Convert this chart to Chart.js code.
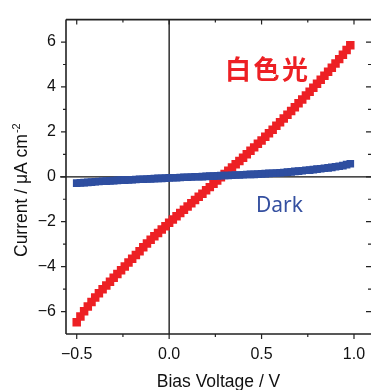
<!DOCTYPE html>
<html>
<head>
<meta charset="utf-8">
<script src="https://cdn.jsdelivr.net/npm/chart.js@4/dist/chart.umd.min.js"></script>
<style>
html,body{margin:0;padding:0;background:#fff;}
#wrap{width:377px;height:390px;position:relative;}
</style>
</head>
<body>
<div id="wrap"><canvas id="c" width="377" height="390"></canvas></div>
<script>
// Bias voltage (V), one value per measured point
const voltage = [-0.50,-0.48,-0.46,-0.44,-0.42,-0.40,-0.38,-0.36,-0.34,-0.32,-0.30,-0.28,-0.26,-0.24,-0.22,-0.20,-0.18,-0.16,-0.14,-0.12,-0.10,-0.08,-0.06,-0.04,-0.02,0.00,0.02,0.04,0.06,0.08,0.10,0.12,0.14,0.16,0.18,0.20,0.22,0.24,0.26,0.28,0.30,0.32,0.34,0.36,0.38,0.40,0.42,0.44,0.46,0.48,0.50,0.52,0.54,0.56,0.58,0.60,0.62,0.64,0.66,0.68,0.70,0.72,0.74,0.76,0.78,0.80,0.82,0.84,0.86,0.88,0.90,0.92,0.94,0.96,0.98];
// Current under white light (μA cm^-2)
const whiteLight = [-6.48,-6.22,-5.99,-5.78,-5.57,-5.37,-5.19,-5.01,-4.84,-4.67,-4.50,-4.33,-4.16,-3.99,-3.82,-3.65,-3.48,-3.31,-3.14,-2.97,-2.80,-2.65,-2.50,-2.35,-2.20,-2.05,-1.90,-1.76,-1.61,-1.47,-1.32,-1.18,-1.03,-0.89,-0.75,-0.60,-0.46,-0.31,-0.17,-0.02,0.13,0.27,0.41,0.56,0.70,0.85,1.00,1.16,1.31,1.47,1.62,1.78,1.94,2.10,2.27,2.43,2.60,2.76,2.93,3.10,3.27,3.44,3.62,3.79,3.97,4.14,4.32,4.50,4.68,4.86,5.05,5.24,5.44,5.65,5.86];
// Dark current (μA cm^-2)
const dark = [-0.28,-0.27,-0.26,-0.25,-0.24,-0.22,-0.21,-0.20,-0.19,-0.18,-0.17,-0.16,-0.15,-0.15,-0.14,-0.13,-0.12,-0.11,-0.11,-0.10,-0.09,-0.08,-0.07,-0.07,-0.06,-0.05,-0.04,-0.04,-0.03,-0.02,-0.02,-0.01,0.00,0.00,0.01,0.02,0.03,0.03,0.04,0.05,0.06,0.06,0.07,0.08,0.08,0.09,0.10,0.11,0.11,0.12,0.13,0.14,0.15,0.16,0.17,0.18,0.19,0.21,0.22,0.24,0.25,0.27,0.29,0.30,0.32,0.34,0.36,0.38,0.40,0.42,0.45,0.47,0.50,0.54,0.58];
// Tick labels
const xTicks = [-0.5, 0.0, 0.5, 1.0];
const xMinorTicks = [-0.25, 0.25, 0.75];
const yTicks = [-6, -4, -2, 0, 2, 4, 6];
const yMinorTicks = [-5, -3, -1, 1, 3, 5];
const xTitle = 'Bias Voltage / V';
const yTitle = 'Current / μA cm';
const yTitleSup = '-2';
const lightLabel = '白色光';
const darkLabel = 'Dark';

const RED = '#ed2024';
const BLUE = '#2e4ea0';

function fmtNum(v, dec){
  const s = Math.abs(v).toFixed(dec);
  return (v < 0 ? '\u2212' : '') + s;
}

const pairs = (ys) => voltage.map((x, i) => ({x: x, y: ys[i]}));

const decor = {
  id: 'decor',
  beforeDatasetsDraw(chart){
    const {ctx, chartArea: a, scales: {x, y}} = chart;
    ctx.save();
    ctx.strokeStyle = '#111';
    ctx.lineWidth = 1.3;
    const x0 = x.getPixelForValue(0), y0 = y.getPixelForValue(0);
    ctx.beginPath();
    ctx.moveTo(x0, a.top); ctx.lineTo(x0, a.bottom);
    ctx.moveTo(a.left - 6, y0); ctx.lineTo(a.right, y0);
    ctx.stroke();
    ctx.restore();
  },
  afterDraw(chart){
    const {ctx, chartArea: a, scales: {x, y}} = chart;
    ctx.save();
    ctx.strokeStyle = '#222';
    ctx.lineWidth = 1.6;
    ctx.beginPath();
    ctx.moveTo(a.left, a.top); ctx.lineTo(a.right, a.top);
    ctx.moveTo(a.left, a.top); ctx.lineTo(a.left, a.bottom);
    ctx.moveTo(a.left, a.bottom); ctx.lineTo(a.right, a.bottom);
    ctx.stroke();
    ctx.lineWidth = 1.2;
    ctx.beginPath();
    const tickX = (v, len) => {
      const p = x.getPixelForValue(v);
      ctx.moveTo(p, a.bottom); ctx.lineTo(p, a.bottom + len);
      ctx.moveTo(p, a.top); ctx.lineTo(p, a.top + len);
    };
    const tickY = (v, len) => {
      const p = y.getPixelForValue(v);
      ctx.moveTo(a.left, p); ctx.lineTo(a.left - len, p);
      ctx.moveTo(a.right, p); ctx.lineTo(a.right - len, p);
    };
    xTicks.forEach(v => tickX(v, 5));
    xMinorTicks.forEach(v => tickX(v, 3));
    yTicks.forEach(v => tickY(v, 5));
    yMinorTicks.forEach(v => tickY(v, 3));
    ctx.stroke();

    // axis titles
    ctx.fillStyle = '#111';
    ctx.font = '17.5px "Liberation Sans", Arial, sans-serif';
    ctx.textAlign = 'center';
    ctx.textBaseline = 'alphabetic';
    ctx.fillText(xTitle, (a.left + a.right) / 2, 387);

    ctx.save();
    ctx.translate(27, 257);
    ctx.rotate(-Math.PI / 2);
    ctx.textAlign = 'left';
    ctx.font = '17.5px "Liberation Sans", Arial, sans-serif';
    ctx.fillText(yTitle, 0, 0);
    const w = ctx.measureText(yTitle).width;
    ctx.font = '11px "Liberation Sans", Arial, sans-serif';
    ctx.fillText(yTitleSup, w + 1, -7);
    ctx.restore();

    // annotations
    ctx.fillStyle = RED;
    ctx.font = 'bold 26px "Noto Sans CJK SC", "Noto Sans CJK JP", sans-serif';
    ctx.textAlign = 'center';
    ctx.textBaseline = 'middle';
    const chars = Array.from(lightLabel);
    const cx = [238, 266.5, 295];
    chars.forEach((c, i) => ctx.fillText(c, cx[i], 69));

    ctx.fillStyle = '#3550a0';
    ctx.font = '21px "Noto Sans", sans-serif';
    ctx.textAlign = 'left';
    ctx.textBaseline = 'alphabetic';
    ctx.fillText(darkLabel, 256, 212);
    ctx.restore();
  }
};

new Chart(document.getElementById('c'), {
  type: 'scatter',
  data: {
    datasets: [
      {label: 'Dark', data: pairs(dark), backgroundColor: BLUE, borderColor: BLUE,
       pointStyle: 'rect', pointRadius: 5.4, borderWidth: 0, showLine: false},
      {label: '白色光', data: pairs(whiteLight), backgroundColor: RED, borderColor: RED,
       pointStyle: 'rect', pointRadius: 6, borderWidth: 0, showLine: false}
    ]
  },
  options: {
    responsive: false,
    animation: false,
    devicePixelRatio: 1,
    layout: {padding: {top: 16, right: 0, left: 0, bottom: 0}},
    plugins: {legend: {display: false}, tooltip: {enabled: false}},
    scales: {
      x: {
        type: 'linear', min: -0.558, max: 1.092,
        border: {display: false},
        grid: {display: false, drawTicks: false},
        afterBuildTicks: (s) => { s.ticks = xTicks.map(v => ({value: v})); },
        afterFit: (s) => { s.height = 56; },
        ticks: {padding: 11, color: '#111', maxRotation: 0,
          font: {family: '"Liberation Sans", Arial, sans-serif', size: 16},
          callback: (v) => fmtNum(v, 1)}
      },
      y: {
        type: 'linear', min: -7, max: 7,
        border: {display: false},
        grid: {display: false, drawTicks: false},
        afterBuildTicks: (s) => { s.ticks = yTicks.map(v => ({value: v})); },
        afterFit: (s) => { s.width = 66; },
        ticks: {padding: 10, color: '#111',
          font: {family: '"Liberation Sans", Arial, sans-serif', size: 16},
          callback: (v) => fmtNum(v, 0)}
      }
    }
  },
  plugins: [decor]
});
</script>
</body>
</html>
